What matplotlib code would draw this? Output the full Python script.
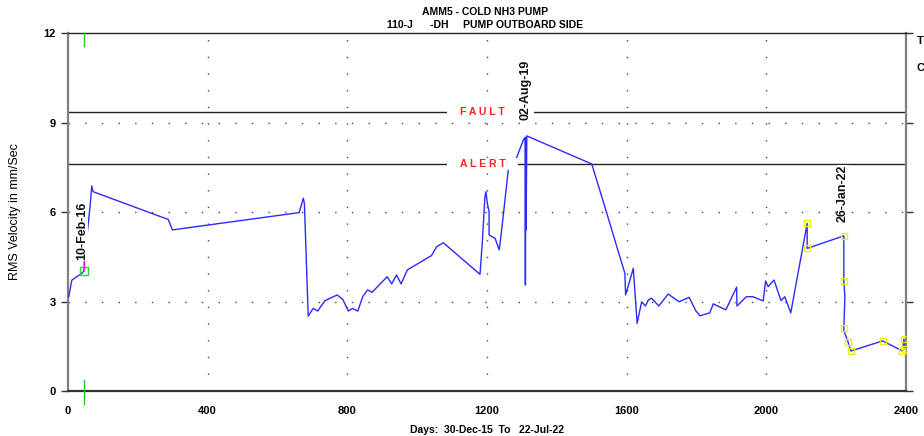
"""
Trend plot: RMS velocity, AMM5 cold NH3 pump (110-J, outboard side).
Writes out.png (924x436).
"""
import matplotlib
matplotlib.use("Agg")
import matplotlib.pyplot as plt
from matplotlib.patches import Rectangle

plt.rcParams.update({
    "font.family": ["Liberation Sans", "DejaVu Sans"],
    "font.size": 8,
})

# days since 30-Dec-15, RMS velocity (mm/s)
days = [2, 11, 39, 46, 47, 63, 68, 72, 287, 299, 662, 674, 677, 688, 702,
        715, 736, 771, 787, 803, 815, 830, 844, 858, 871, 914, 927, 941, 954,
        972, 1041, 1056, 1075, 1180, 1187, 1194, 1197, 1201, 1206, 1206, 1223,
        1235, 1242, 1261, 1285, 1304, 1309, 1310, 1311, 1312, 1314, 1500, 1533,
        1595, 1597, 1619, 1630, 1643, 1654, 1662, 1671, 1692, 1719, 1750, 1779,
        1798, 1810, 1838, 1848, 1884, 1915, 1916, 1943, 1962, 1991, 1998, 2005,
        2022, 2042, 2053, 2070, 2117, 2117, 2222, 2222, 2225, 2222, 2223, 2234,
        2242, 2333, 2390, 2394, 2398]
rms = [3.16, 3.72, 3.94, 4.03, 4.40, 6.17, 6.87, 6.68, 5.75, 5.40, 5.98, 6.46,
       6.29, 2.51, 2.77, 2.68, 3.03, 3.22, 3.07, 2.68, 2.77, 2.68, 3.16, 3.39,
       3.31, 3.83, 3.59, 3.89, 3.59, 4.06, 4.54, 4.84, 4.97, 3.91, 5.06, 6.51,
       6.68, 6.29, 6.01, 5.23, 5.12, 4.73, 5.40, 7.41, 7.83, 8.41, 8.50, 3.55,
       8.50, 5.40, 8.55, 7.61, 6.35, 3.94, 3.22, 4.11, 2.27, 2.99, 2.85, 3.05,
       3.11, 2.85, 3.25, 2.99, 3.14, 2.69, 2.52, 2.62, 2.92, 2.72, 3.48, 2.85,
       3.16, 3.16, 3.02, 3.69, 3.50, 3.72, 3.03, 3.16, 2.62, 5.62, 4.78, 5.20,
       3.69, 3.16, 2.10, 1.99, 1.65, 1.34, 1.68, 1.34, 1.74, 1.40]

# readings flagged with yellow markers
flag_days = [2117, 2117, 2222, 2222, 2222, 2234, 2242, 2333, 2390, 2394, 2398]
flag_vals = [5.62, 4.78, 5.20, 3.69, 2.10, 1.65, 1.34, 1.68, 1.34, 1.74, 1.40]

# cursor reading
cursor_day, cursor_val = 46, 4.03

FAULT = 9.35
ALERT = 7.6

date_labels = [("10-Feb-16", 40, 4.38), ("02-Aug-19", 1311, 9.08),
               ("26-Jan-22", 2219, 5.66)]

fig = plt.figure(figsize=(9.24, 4.36), dpi=100)
ax = fig.add_axes([0.0736, 0.1032, 0.9069, 0.8211])

ax.set_xlim(0, 2400)
ax.set_ylim(0, 12)

# sparse dotted grid
dots = dict(color="#444444", lw=1.0, linestyle=(0, (1, 11)), zorder=1)
for y in (3, 6, 9):
    ax.axhline(y, **dots)
for x in (400, 800, 1200, 1600, 2000):
    ax.axvline(x, **dots)

# limit lines
ax.axhline(FAULT, color="#222222", lw=1.0, zorder=2)
ax.axhline(ALERT, color="#222222", lw=1.0, zorder=2)

ax.plot(days, rms, color="#2b2bff", lw=1.0, zorder=3)
ax.plot(flag_days, flag_vals, ls="none", marker="s", ms=4, mfc="none",
        mec="#eeee00", mew=1.0, zorder=4)
ax.plot([cursor_day], [cursor_val], ls="none", marker="s", ms=6, mfc="none",
        mec="#22dd22", mew=1.0, zorder=4)
ax.plot([cursor_day, cursor_day], [4.05, 4.45], color="#dd22dd", lw=1.0,
        zorder=4)

# white gaps behind the limit labels
ax.add_patch(Rectangle((1085, FAULT - 0.22), 250, 0.44, fc="white", ec="none",
                       zorder=5))
ax.add_patch(Rectangle((1085, ALERT - 0.2), 203, 0.4, fc="white", ec="none",
                       zorder=5))
ax.text(1188, FAULT, "F A U L T", color="#ff2020", fontsize=7.5,
        fontweight="bold", ha="center", va="center", zorder=6)
ax.text(1188, ALERT, "A L E R T", color="#ff2020", fontsize=7.5,
        fontweight="bold", ha="center", va="center", zorder=6)

for txt, x, y in date_labels:
    ax.text(x, y, txt, rotation=90, ha="center", va="bottom", fontsize=9,
            fontweight="bold", color="#111111", zorder=6,
            bbox=dict(fc="white", ec="none", pad=0.2))

# cursor marks at top and below the axis
cur = ax.get_xaxis_transform()
ax.plot([cursor_day, cursor_day], [0.965, 1.0], color="#22cc22", lw=1.0,
        transform=cur, clip_on=False, zorder=6)
ax.plot([cursor_day, cursor_day], [-0.035, 0.03], color="#22cc22", lw=1.0,
        transform=cur, clip_on=False, zorder=6)

ax.set_xticks([0, 400, 800, 1200, 1600, 2000, 2400])
ax.set_yticks([0, 3, 6, 9, 12])
ax.tick_params(axis="x", length=0, pad=11, labelsize=8)
ax.tick_params(axis="y", length=5, width=1, direction="out", pad=4,
               labelsize=8, right=True, color="#333333")
for lab in ax.get_xticklabels() + ax.get_yticklabels():
    lab.set_fontweight("bold")

for side in ("left", "right"):
    ax.spines[side].set_color("#808080")
    ax.spines[side].set_linewidth(1.6)
ax.spines["bottom"].set_color("#333333")
ax.spines["bottom"].set_linewidth(1.6)
ax.spines["top"].set_color("#222222")
ax.spines["top"].set_linewidth(1.0)

ax.set_ylabel("RMS Velocity in mm/Sec", fontsize=9, labelpad=16)
ax.set_xlabel("Days:  30-Dec-15  To   22-Jul-22", fontsize=7.5,
              fontweight="bold", labelpad=6)

fig.text(0.525, 0.972, "AMM5 - COLD NH3 PUMP", ha="center", va="center",
         fontsize=7.5, fontweight="bold")
fig.text(0.525, 0.942, "110-J      -DH     PUMP OUTBOARD SIDE", ha="center",
         va="center", fontsize=7.5, fontweight="bold")
fig.text(0.992, 0.905, "T", fontsize=8, fontweight="bold", va="center")
fig.text(0.992, 0.845, "C", fontsize=8, fontweight="bold", va="center")

fig.savefig("out.png", dpi=100)
